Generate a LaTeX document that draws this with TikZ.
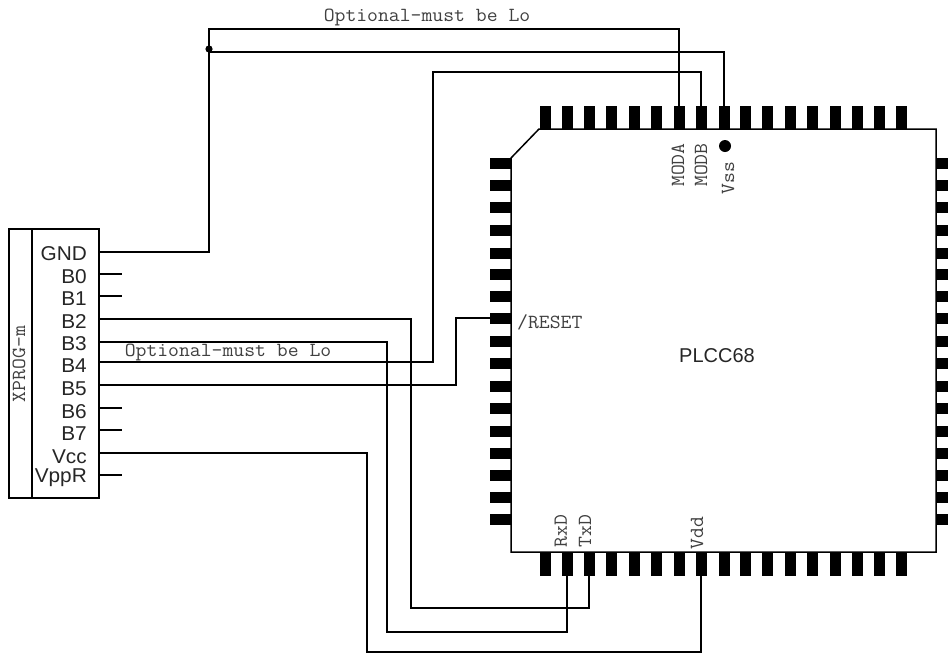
\documentclass[tikz,border=0pt]{standalone}
\usepackage{fontspec}
\setmainfont{Liberation Sans}
\setmonofont{Latin Modern Mono}
\tikzset{
  wire/.style={line width=1.5pt,line cap=butt,line join=miter},
  vpin/.style={fill=black,inner sep=0pt,minimum width=11pt,minimum height=23pt},
  lpin/.style={fill=black,inner sep=0pt,minimum width=21pt,minimum height=11pt},
  rpin/.style={fill=black,inner sep=0pt,minimum width=12pt,minimum height=11pt},
  sig/.style={font=\fontsize{20}{20}\selectfont,anchor=east,inner sep=0pt,text=black!85,xscale=1.04},
  mono/.style={font=\ttfamily\fontsize{20}{20}\selectfont,inner sep=0pt,text=black!75,xscale=1.055},
  port/.style={inner sep=0pt,minimum size=0pt}
}
\begin{document}
\begin{tikzpicture}[x=1pt,y=-1pt]
\useasboundingbox (0,0) rectangle (948,654);
\fill[white] (0,0) rectangle (948,654);
% chip body
\draw[wire] (539,129) -- (936,129) -- (936,552) -- (511,552) -- (511,158) -- cycle;
% pins
\foreach \n/\x in {1/545,2/567,3/589,4/611,5/634,6/656,7/679,8/701,9/724,10/745,11/767,12/790,13/812,14/835,15/857,16/879,17/901}{
  \node[vpin] (t\n) at (\x,117.5) {};
  \node[vpin] (b\n) at (\x,564) {};
}
\foreach \n/\y in {1/163,2/185,3/207,4/230,5/253,6/274,7/296,8/318,9/341,10/363,11/386,12/408,13/431,14/453,15/475,16/497,17/519}{
  \node[lpin] (l\n) at (500.5,\y) {};
  \node[rpin] (r\n) at (942,\y) {};
}
% connector box
\node[draw,line width=1.5pt,inner sep=0pt,minimum width=67pt,minimum height=269pt] (conn) at (65.5,363.5) {};
\node[draw,line width=1.5pt,inner sep=0pt,minimum width=23pt,minimum height=269pt] (side) at (20.5,363.5) {};
\node[rotate=90,mono] (xprog) at (19,364) {XPROG-m};
% signal labels and ports
\foreach \n/\t/\ly/\py in {gnd/GND/254/252,bz/B0/277/274,ba/B1/299/296,bb/B2/322/319,bc/B3/344/342,bd/B4/366/362,be/B5/389/385,bf/B6/412/408,bg/B7/434/430,vcc/Vcc/457/453,vpp/VppR/478/475}{
  \node[sig] (lab\n) at (87,\ly) {\t};
  \node[port] (p\n) at (99,\py) {};
}
% stubs
\foreach \n/\y in {bz/274,ba/296,bf/408,bg/430,vpp/475}{
  \coordinate (s\n) at (122,\y);
  \draw[wire] (p\n) -- (s\n);
}
% wires
\coordinate (j) at (209,49);
\draw[wire] (pgnd) -| (209,29) -| (t7.north);
\draw[wire] (209,52) -| (t9.north);
\fill (j) circle (3.6);
\draw[wire] (pbd) -| (433,72) -| (t8.north);
\draw[wire] (pbe) -| (456,318) -- (l8.west);
\draw[wire] (pbb) -| (411,608) -| (b3.south);
\draw[wire] (pbc) -| (387,632) -| (b2.south);
\draw[wire] (pvcc) -| (367,652) -| (b8.south);
% pin labels
\node[mono] (opt1) at (427,17) {Optional-must be Lo};
\node[mono] (opt2) at (228,352) {Optional-must be Lo};
\node[rotate=90,mono] (moda) at (678,165) {MODA};
\node[rotate=90,mono] (modb) at (701,165) {MODB};
\node[rotate=90,mono] (vss) at (728,178) {Vss};
\node[fill=black,circle,inner sep=0pt,minimum size=12pt] (vssdot) at (725,146) {};
\node[rotate=90,mono] (rxd) at (561,531) {RxD};
\node[rotate=90,mono] (txd) at (585,531) {TxD};
\node[rotate=90,mono] (vdd) at (697,533) {Vdd};
\node[mono,anchor=west] (reset) at (517,322) {/RESET};
\node[font=\fontsize{20}{20}\selectfont,inner sep=0pt,text=black!85] (plcc) at (717,356) {PLCC68};
\end{tikzpicture}
\end{document}
